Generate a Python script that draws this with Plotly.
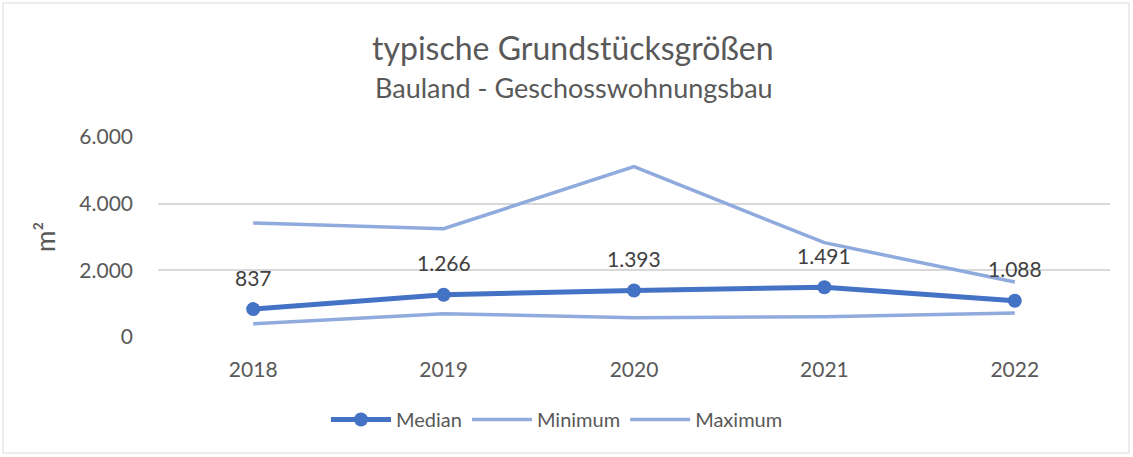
import plotly.graph_objects as go

years = ["2018", "2019", "2020", "2021", "2022"]
median = [837, 1266, 1393, 1491, 1088]
minimum = [400, 700, 580, 610, 720]
maximum = [3420, 3250, 5110, 2830, 1650]

W, H = 1133, 457
ML, MR, MT, MB = 158, 23, 137, 120
FONT = "Lato, 'Open Sans', sans-serif"
GRAY = "#595959"
pw, ph = W - ML - MR, H - MT - MB

def de(v):
    return f"{v:,}".replace(",", ".")

def px_x(px):
    return (px - ML) / pw

def px_y(py):
    return (H - MB - py) / ph

fig = go.Figure()
fig.add_trace(go.Scatter(x=years, y=median, name="Median", mode="lines+markers",
                         line=dict(color="#4472C4", width=5),
                         marker=dict(size=14, color="#4472C4")))
fig.add_trace(go.Scatter(x=years, y=minimum, name="Minimum", mode="lines",
                         line=dict(color="#8FAADC", width=3.5)))
fig.add_trace(go.Scatter(x=years, y=maximum, name="Maximum", mode="lines",
                         line=dict(color="#8FAADC", width=3.5)))

annots = []
for i, v in enumerate(median):
    annots.append(dict(x=i, y=v, xref="x", yref="y", text=de(v), showarrow=False,
                       yshift=32, font=dict(family=FONT, size=21, color="#404040")))
annots.append(dict(x=px_x(573), y=px_y(48), xref="paper", yref="paper",
                   text="typische Grundstücksgrößen", showarrow=False,
                   xanchor="center", yanchor="middle",
                   font=dict(family=FONT, size=32, color=GRAY)))
annots.append(dict(x=px_x(574), y=px_y(88), xref="paper", yref="paper",
                   text="Bauland - Geschosswohnungsbau", showarrow=False,
                   xanchor="center", yanchor="middle",
                   font=dict(family=FONT, size=27, color=GRAY)))
annots.append(dict(x=px_x(45), y=px_y(237), xref="paper", yref="paper",
                   text="m²", showarrow=False, textangle=-90,
                   xanchor="center", yanchor="middle",
                   font=dict(family=FONT, size=26, color=GRAY)))

shapes = [dict(type="rect", xref="paper", yref="paper",
               x0=px_x(3), x1=px_x(W - 4), y0=px_y(H - 4), y1=px_y(3),
               line=dict(color="#D9D9D9", width=1), layer="below")]

fig.update_layout(
    width=W, height=H,
    margin=dict(l=ML, r=MR, t=MT, b=MB, autoexpand=False),
    paper_bgcolor="white", plot_bgcolor="white",
    separators=",.",
    font=dict(family=FONT, color=GRAY),
    annotations=annots,
    shapes=shapes,
    showlegend=True,
    legend=dict(orientation="h", x=px_x(557), xanchor="center",
                y=px_y(400), yanchor="top",
                font=dict(size=20, color=GRAY), itemwidth=60),
    xaxis=dict(type="category", showgrid=False, showline=False, ticks="",
               tickfont=dict(size=21, color=GRAY), range=[-0.5, 4.5],
               ticklabelstandoff=18),
    yaxis=dict(range=[0, 6000], dtick=2000, tickformat=",d", showgrid=True,
               gridcolor="#D9D9D9", gridwidth=1.5, zeroline=False, showline=False,
               tickfont=dict(size=21, color=GRAY), ticklabelstandoff=24),
)
fig.write_html("out.html", config={"displayModeBar": False},
               post_script="document.body.style.margin='0';")
